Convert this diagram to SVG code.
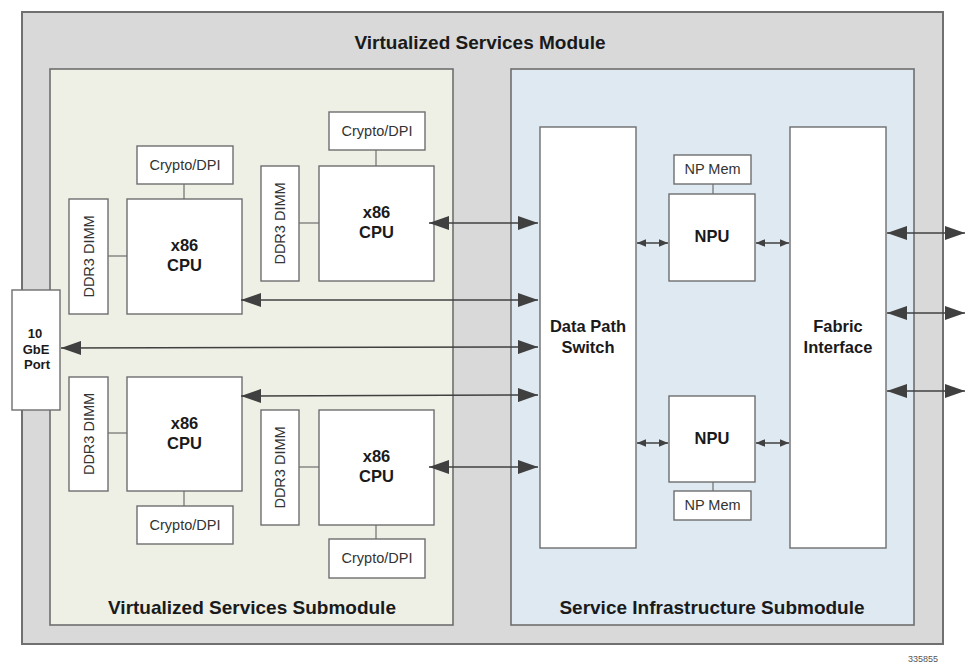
<svg xmlns="http://www.w3.org/2000/svg" width="965" height="666" viewBox="0 0 965 666">
<defs>
<style>
.box{fill:#ffffff;stroke:#6e6e6e;stroke-width:1.4}
.link{stroke:#6e6e6e;stroke-width:1.2;fill:none}
.arr{stroke:#404040;stroke-width:1.5;fill:none}
.t{font-family:"Liberation Sans",Arial,sans-serif;fill:#1a1a1a;text-anchor:middle}
.b{font-weight:bold}
.title{font-size:19px;font-weight:bold}
.cpu{font-size:16.5px;font-weight:bold}
.small{font-size:14.5px;fill:#333333}
.port{font-size:13px;font-weight:bold}
</style>
<marker id="big" viewBox="0 -7 20 14" refX="20" refY="0" markerWidth="20" markerHeight="14" markerUnits="userSpaceOnUse" orient="auto-start-reverse">
<path d="M0,-7 L20,0 L0,7 z" fill="#404040"/>
</marker>
<marker id="sm" viewBox="0 -4 9 8" refX="9" refY="0" markerWidth="9" markerHeight="8" markerUnits="userSpaceOnUse" orient="auto-start-reverse">
<path d="M0,-3.8 L9,0 L0,3.8 z" fill="#404040"/>
</marker>
</defs>

<g id="module">
<rect x="22" y="12" width="921" height="632" fill="#d9d9d9" stroke="#707070" stroke-width="2"/>
<text class="t title" x="480" y="49">Virtualized Services Module</text>
</g>

<g id="vs-submodule">
<rect x="50" y="69" width="403" height="556" fill="#eef0e6" stroke="#6e6e6e" stroke-width="1.6"/>
<text class="t title" x="252" y="614">Virtualized Services Submodule</text>
</g>

<g id="si-submodule">
<rect x="511" y="69" width="403" height="556" fill="#dfe9f2" stroke="#6e6e6e" stroke-width="1.6"/>
<text class="t title" x="712" y="614">Service Infrastructure Submodule</text>
</g>

<g id="links">
<line class="link" x1="184" y1="184" x2="184" y2="199"/>
<line class="link" x1="108" y1="256" x2="127" y2="256"/>
<line class="link" x1="376" y1="150" x2="376" y2="166"/>
<line class="link" x1="299" y1="223" x2="319" y2="223"/>
<line class="link" x1="108" y1="433" x2="127" y2="433"/>
<line class="link" x1="184" y1="491" x2="184" y2="506"/>
<line class="link" x1="299" y1="467" x2="319" y2="467"/>
<line class="link" x1="376" y1="525" x2="376" y2="539"/>
<line class="link" x1="713" y1="184" x2="713" y2="194"/>
<line class="link" x1="713" y1="482" x2="713" y2="491"/>
</g>

<g id="cpu1">
<rect class="box" x="127" y="199" width="115" height="115"/>
<text class="t cpu" x="184.5" y="251">x86</text>
<text class="t cpu" x="184.5" y="271">CPU</text>
</g>
<g id="crypto1">
<rect class="box" x="137" y="146" width="96" height="38"/>
<text class="t small" x="185" y="170">Crypto/DPI</text>
</g>
<g id="ddr1">
<rect class="box" x="69" y="199" width="39" height="115"/>
<text class="t small" transform="translate(93.5,256.5) rotate(-90)">DDR3 DIMM</text>
</g>

<g id="cpu2">
<rect class="box" x="319" y="166" width="115" height="115"/>
<text class="t cpu" x="376.5" y="218">x86</text>
<text class="t cpu" x="376.5" y="238">CPU</text>
</g>
<g id="crypto2">
<rect class="box" x="329" y="112" width="96" height="38"/>
<text class="t small" x="377" y="136">Crypto/DPI</text>
</g>
<g id="ddr2">
<rect class="box" x="261" y="166" width="38" height="115"/>
<text class="t small" transform="translate(285,223.5) rotate(-90)">DDR3 DIMM</text>
</g>

<g id="cpu3">
<rect class="box" x="127" y="377" width="115" height="114"/>
<text class="t cpu" x="184.5" y="429">x86</text>
<text class="t cpu" x="184.5" y="449">CPU</text>
</g>
<g id="crypto3">
<rect class="box" x="137" y="506" width="96" height="38"/>
<text class="t small" x="185" y="530">Crypto/DPI</text>
</g>
<g id="ddr3">
<rect class="box" x="69" y="377" width="39" height="114"/>
<text class="t small" transform="translate(93.5,434) rotate(-90)">DDR3 DIMM</text>
</g>

<g id="cpu4">
<rect class="box" x="319" y="410" width="115" height="115"/>
<text class="t cpu" x="376.5" y="462">x86</text>
<text class="t cpu" x="376.5" y="482">CPU</text>
</g>
<g id="crypto4">
<rect class="box" x="329" y="539" width="96" height="39"/>
<text class="t small" x="377" y="563">Crypto/DPI</text>
</g>
<g id="ddr4">
<rect class="box" x="261" y="410" width="38" height="115"/>
<text class="t small" transform="translate(285,467.5) rotate(-90)">DDR3 DIMM</text>
</g>

<g id="port">
<rect class="box" x="12" y="290" width="48" height="120"/>
<text class="t port" x="35" y="338">10</text>
<text class="t port" x="36" y="354">GbE</text>
<text class="t port" x="37" y="369">Port</text>
</g>

<g id="dps">
<rect class="box" x="540" y="127" width="96" height="421"/>
<text class="t cpu" x="588" y="332">Data Path</text>
<text class="t cpu" x="588" y="353">Switch</text>
</g>

<g id="fabric">
<rect class="box" x="790" y="127" width="96" height="421"/>
<text class="t cpu" x="838" y="332">Fabric</text>
<text class="t cpu" x="838" y="353">Interface</text>
</g>

<g id="npu1">
<rect class="box" x="669" y="194" width="86" height="87"/>
<text class="t cpu" x="712" y="242">NPU</text>
</g>
<g id="npmem1">
<rect class="box" x="674" y="155" width="77" height="29"/>
<text class="t small" x="712.5" y="174">NP Mem</text>
</g>
<g id="npu2">
<rect class="box" x="669" y="396" width="86" height="86"/>
<text class="t cpu" x="712" y="444">NPU</text>
</g>
<g id="npmem2">
<rect class="box" x="674" y="491" width="77" height="29"/>
<text class="t small" x="712.5" y="510">NP Mem</text>
</g>

<g id="connectors">
<line class="arr" x1="429" y1="223" x2="538" y2="223" marker-start="url(#big)" marker-end="url(#big)"/>
<line class="arr" x1="241" y1="300" x2="538" y2="300" marker-start="url(#big)" marker-end="url(#big)"/>
<line class="arr" x1="61" y1="348" x2="538" y2="347" marker-start="url(#big)" marker-end="url(#big)"/>
<line class="arr" x1="241" y1="396" x2="538" y2="395" marker-start="url(#big)" marker-end="url(#big)"/>
<line class="arr" x1="429" y1="467" x2="538" y2="467" marker-start="url(#big)" marker-end="url(#big)"/>
<line class="arr" x1="637" y1="243" x2="668" y2="243" marker-start="url(#sm)" marker-end="url(#sm)"/>
<line class="arr" x1="756" y1="243" x2="789" y2="243" marker-start="url(#sm)" marker-end="url(#sm)"/>
<line class="arr" x1="637" y1="443" x2="668" y2="443" marker-start="url(#sm)" marker-end="url(#sm)"/>
<line class="arr" x1="756" y1="443" x2="789" y2="443" marker-start="url(#sm)" marker-end="url(#sm)"/>
<line class="arr" x1="887" y1="233" x2="965" y2="233" marker-start="url(#big)" marker-end="url(#big)"/>
<line class="arr" x1="887" y1="313" x2="965" y2="313" marker-start="url(#big)" marker-end="url(#big)"/>
<line class="arr" x1="887" y1="391" x2="965" y2="391" marker-start="url(#big)" marker-end="url(#big)"/>
</g>

<text class="t" x="923" y="662" style="font-size:9px;fill:#555555">335855</text>
</svg>
